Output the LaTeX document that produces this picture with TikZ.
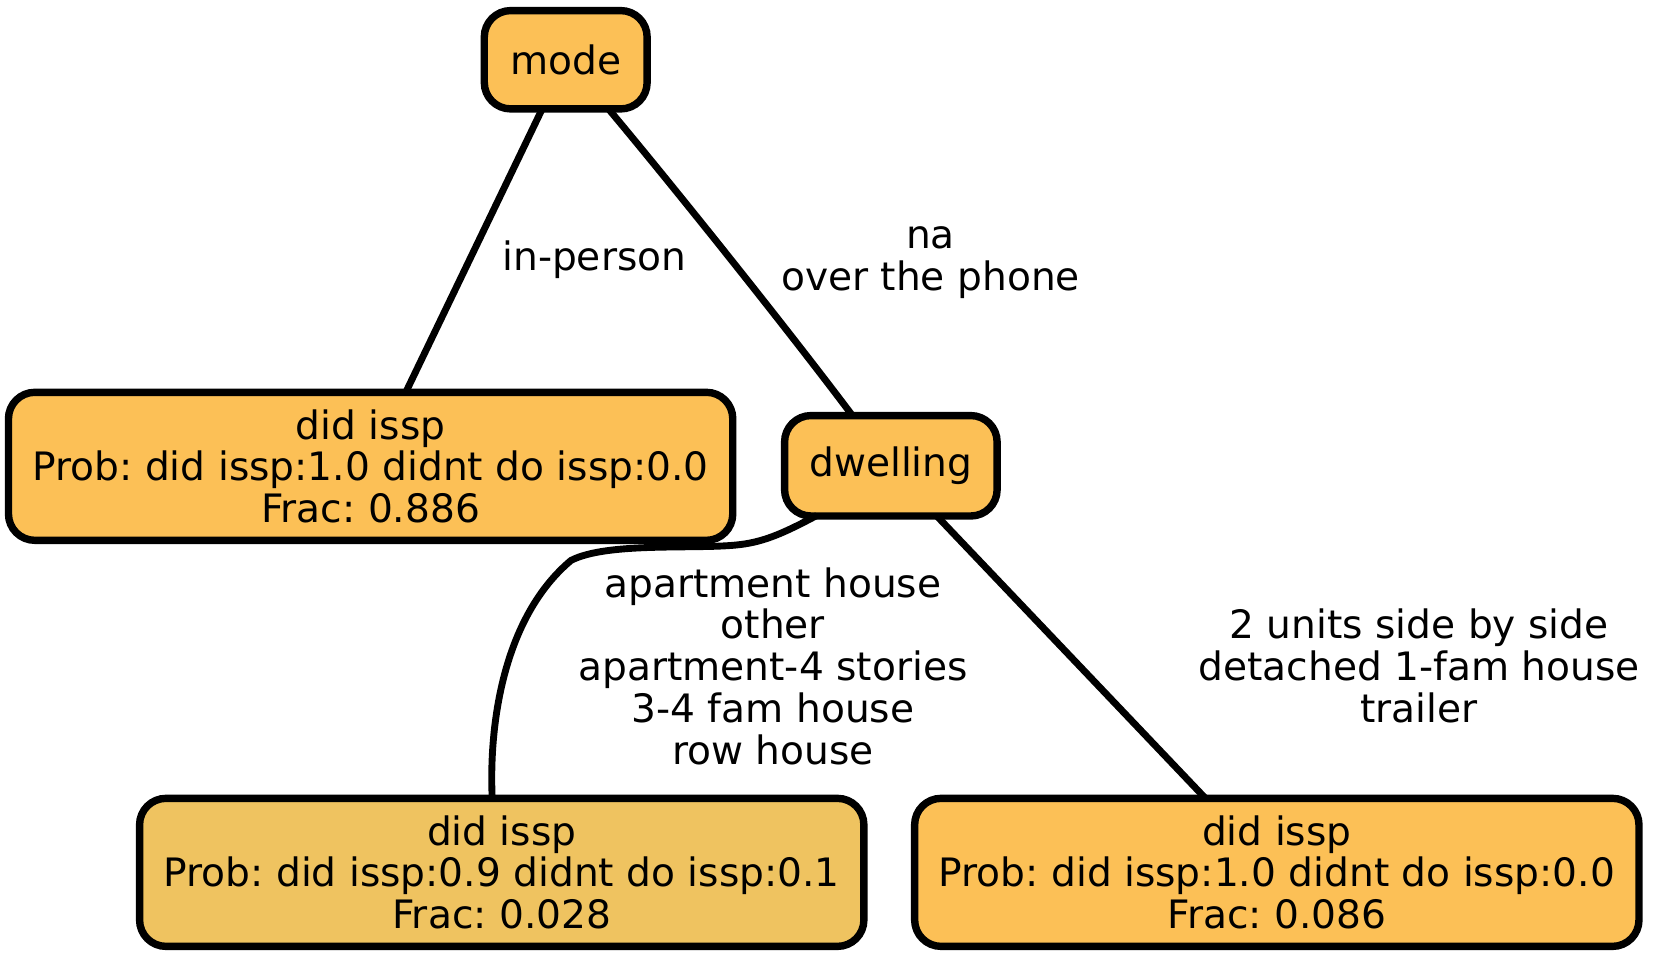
\documentclass[tikz,border=0pt]{standalone}
\usepackage{fontspec}
\setmainfont{DejaVu Sans}
\frenchspacing
\definecolor{cA}{RGB}{252,192,86}
\definecolor{cB}{RGB}{239,195,96}
\begin{document}
\begin{tikzpicture}[x=1pt,y=-1pt,
  box/.style={draw=black,line width=7pt,rounded corners=25pt,inner sep=0pt,align=center,
    font=\fontsize{37}{39.5}\selectfont\frenchspacing},
  lbl/.style={align=center,inner sep=0pt,font=\fontsize{37}{39.5}\selectfont\frenchspacing},
  edge/.style={draw=black,line width=6.5pt}]
\useasboundingbox (0,0) rectangle (1568,906);
\node[box,fill=cA,minimum width=154pt,minimum height=93pt] (mode) at (535,56.5) {mode};
\node[box,fill=cA,minimum width=685pt,minimum height=140pt] (d1) at (350.5,441) {did issp\\Prob: did issp:1.0 didnt do issp:0.0\\Frac: 0.886};
\node[box,fill=cA,minimum width=201pt,minimum height=95pt] (dw) at (842.5,440.5) {dwelling};
\node[box,fill=cB,minimum width=685pt,minimum height=140pt] (d2) at (474.5,825) {did issp\\Prob: did issp:0.9 didnt do issp:0.1\\Frac: 0.028};
\node[box,fill=cA,minimum width=685pt,minimum height=140pt] (d3) at (1207.5,825) {did issp\\Prob: did issp:1.0 didnt do issp:0.0\\Frac: 0.086};
\path[edge] ([xshift=-22pt,yshift=4pt]mode.south) -- ([xshift=33pt,yshift=-4pt]d1.north);
\path[edge] ([xshift=40pt,yshift=4pt]mode.south) .. controls (630,168) and (740,305) .. ([xshift=-36pt,yshift=-4pt]dw.north);
\path[edge] ([xshift=-70pt,yshift=4pt]dw.south) .. controls (745,502) and (725,512) .. (700,515) .. controls (660,520) and (575,512) .. (540,530) .. controls (478,582) and (462,680) .. ([xshift=-9pt,yshift=-4pt]d2.north);
\path[edge] ([xshift=43pt,yshift=4pt]dw.south) -- ([xshift=-67pt,yshift=-4pt]d3.north);
\node[lbl] (l1) at (562,246) {in-person};
\node[lbl] (l2) at (880,248) {na\\over the phone};
\node[lbl] (l3) at (731,630) {apartment house\\other\\apartment-4 stories\\3-4 fam house\\row house};
\node[lbl] (l4) at (1342,630) {2 units side by side\\detached 1-fam house\\trailer};
\end{tikzpicture}
\end{document}
